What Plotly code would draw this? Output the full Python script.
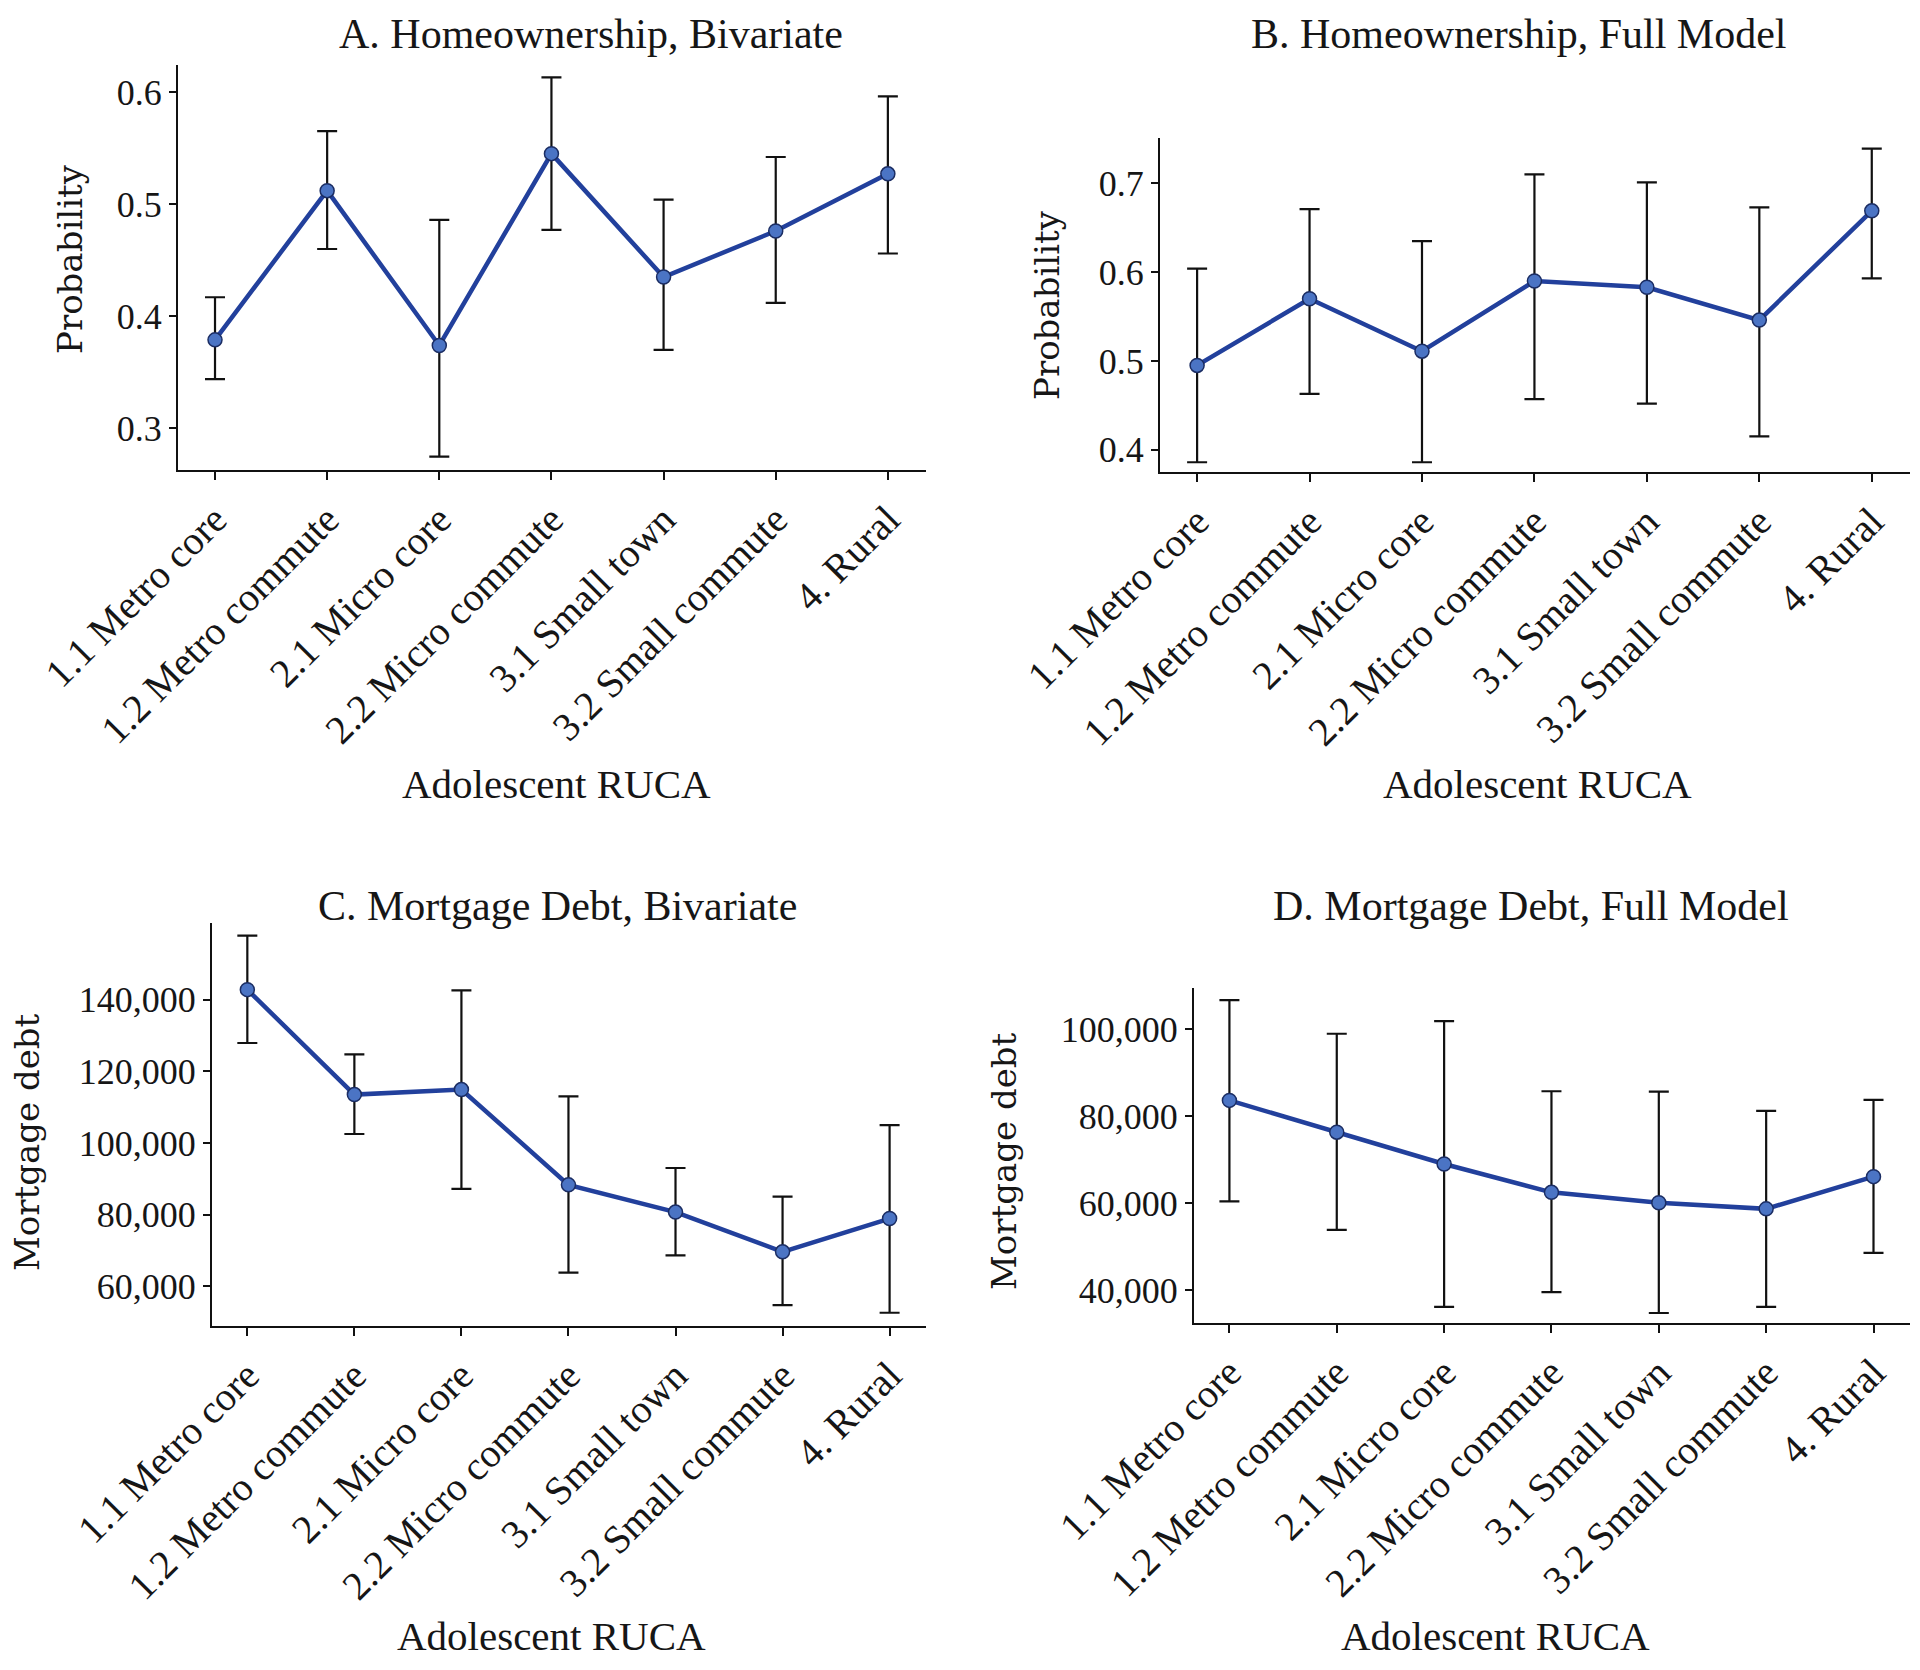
import plotly.graph_objects as go

categories = ["1.1 Metro core", "1.2 Metro commute", "2.1 Micro core", "2.2 Micro commute",
              "3.1 Small town", "3.2 Small commute", "4. Rural"]

# Panel A: Homeownership, Bivariate
a_est = [0.379, 0.512, 0.374, 0.545, 0.435, 0.476, 0.527]
a_hi = [0.417, 0.565, 0.486, 0.613, 0.504, 0.542, 0.596]
a_lo = [0.344, 0.460, 0.275, 0.477, 0.370, 0.412, 0.456]

# Panel B: Homeownership, Full Model
b_est = [0.495, 0.570, 0.511, 0.590, 0.583, 0.546, 0.669]
b_hi = [0.604, 0.671, 0.635, 0.710, 0.701, 0.673, 0.739]
b_lo = [0.386, 0.463, 0.386, 0.457, 0.452, 0.415, 0.593]

# Panel C: Mortgage Debt, Bivariate
c_est = [142800, 113500, 114900, 88300, 80700, 69600, 78900]
c_hi = [157900, 124700, 142600, 113000, 93000, 85000, 105000]
c_lo = [127900, 102500, 87200, 63800, 68600, 54700, 52600]

# Panel D: Mortgage Debt, Full Model
d_est = [83600, 76300, 69000, 62500, 60100, 58700, 66100]
d_hi = [106600, 98900, 101800, 85700, 85600, 81200, 83700]
d_lo = [60400, 53900, 36200, 39600, 34800, 36200, 48600]

titles = ["A. Homeownership, Bivariate", "B. Homeownership, Full Model",
          "C. Mortgage Debt, Bivariate", "D. Mortgage Debt, Full Model"]
y_titles = ["Probability", "Probability", "Mortgage debt", "Mortgage debt"]
x_title = "Adolescent RUCA"

a_ticks = [0.3, 0.4, 0.5, 0.6]
b_ticks = [0.4, 0.5, 0.6, 0.7]
c_ticks = [60000, 80000, 100000, 120000, 140000]
d_ticks = [40000, 60000, 80000, 100000]

OFF = 8  # page body margin
W, H = 1920 - 2 * OFF, 1670 - 2 * OFF
LINE = "#22409c"
MFILL = "#4b74c4"
MEDGE = "#1b2d63"
TXT = "#161616"
SERIF = "Liberation Serif, Times New Roman, serif"
YSERIF = "DejaVu Serif, serif"


def fx(px):
    return (px - OFF) / W


def fy(py):
    return 1 - (py - OFF) / H


panels = [
    dict(est=a_est, hi=a_hi, lo=a_lo, ticks=a_ticks, fmt=".1f", yr=[0.263, 0.624],
         px=(178, 926), py=(65, 470), title_xy=(591, 34), ytitle_xy=(70, 259), xtitle_xy=(556, 784)),
    dict(est=b_est, hi=b_hi, lo=b_lo, ticks=b_ticks, fmt=".1f", yr=[0.375, 0.751],
         px=(1160, 1910), py=(138, 472), title_xy=(1518, 34), ytitle_xy=(1047, 305), xtitle_xy=(1537, 784)),
    dict(est=c_est, hi=c_hi, lo=c_lo, ticks=c_ticks, fmt=",", yr=[48900, 161400],
         px=(212, 926), py=(923, 1326), title_xy=(557, 906), ytitle_xy=(27, 1142), xtitle_xy=(551, 1636)),
    dict(est=d_est, hi=d_hi, lo=d_lo, ticks=d_ticks, fmt=",", yr=[32500, 109400],
         px=(1194, 1910), py=(988, 1323), title_xy=(1531, 906), ytitle_xy=(1004, 1161), xtitle_xy=(1495, 1636)),
]

fig = go.Figure()
annotations = []
layout = {}
for i, p in enumerate(panels):
    n = "" if i == 0 else str(i + 1)
    xs = list(range(len(categories)))
    fig.add_trace(go.Scatter(
        x=xs, y=p["est"], mode="lines+markers",
        xaxis="x" + n, yaxis="y" + n,
        line=dict(color=LINE, width=4.5),
        marker=dict(size=14, color=MFILL, line=dict(color=MEDGE, width=1.5)),
        error_y=dict(type="data", symmetric=False,
                     array=[h - e for h, e in zip(p["hi"], p["est"])],
                     arrayminus=[e - l for e, l in zip(p["est"], p["lo"])],
                     color="#111111", thickness=2.2, width=10),
        showlegend=False,
    ))
    x0, x1 = p["px"]
    y0, y1 = p["py"]
    layout["xaxis" + n] = dict(
        domain=[fx(x0), fx(x1)], anchor="y" + n, automargin=False,
        range=[-0.33, 6.34], tickmode="array", tickvals=xs, ticktext=categories,
        tickangle=-45, showline=True, linecolor="#111111", linewidth=2,
        ticks="outside", ticklen=8, tickwidth=2, tickcolor="#111111",
        showgrid=False, zeroline=False,
        tickfont=dict(family=SERIF, size=40, color=TXT),
    )
    layout["yaxis" + n] = dict(
        domain=[fy(y1), fy(y0)], anchor="x" + n, automargin=False,
        range=p["yr"], tickmode="array", tickvals=p["ticks"], tickformat=p["fmt"],
        showline=True, linecolor="#111111", linewidth=2,
        ticks="outside", ticklen=7, tickwidth=2, tickcolor="#111111",
        showgrid=False, zeroline=False,
        tickfont=dict(family=SERIF, size=36, color=TXT),
    )
    tx, ty = p["title_xy"]
    annotations.append(dict(text=titles[i], x=fx(tx), y=fy(ty), xref="paper", yref="paper",
                            showarrow=False, xanchor="center", yanchor="middle",
                            font=dict(family=SERIF, size=42, color=TXT)))
    yx, yy = p["ytitle_xy"]
    annotations.append(dict(text=y_titles[i], x=fx(yx), y=fy(yy), xref="paper", yref="paper",
                            showarrow=False, xanchor="center", yanchor="middle", textangle=-90,
                            font=dict(family=YSERIF, size=34, color=TXT)))
    xx, xy = p["xtitle_xy"]
    annotations.append(dict(text=x_title, x=fx(xx), y=fy(xy), xref="paper", yref="paper",
                            showarrow=False, xanchor="center", yanchor="middle",
                            font=dict(family=SERIF, size=41, color=TXT)))

fig.update_layout(
    width=W, height=H,
    margin=dict(l=0, r=0, t=0, b=0, autoexpand=False),
    paper_bgcolor="white", plot_bgcolor="white",
    annotations=annotations,
    **layout,
)

fig.write_html("out.html")
